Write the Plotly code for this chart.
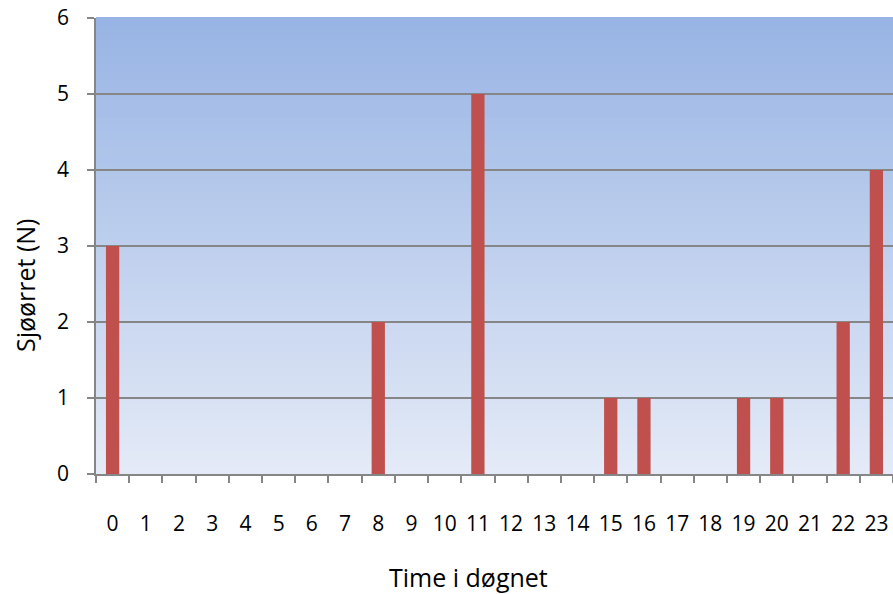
import plotly.graph_objects as go

hours = [str(h) for h in range(24)]
counts = [3, 0, 0, 0, 0, 0, 0, 0, 2, 0, 0, 5, 0, 0, 0, 1, 1, 0, 0, 1, 1, 0, 2, 4]
x_title = "Time i døgnet"
y_title = "Sjøørret (N)"

top_rgb = (152, 180, 228)
bot_rgb = (228, 234, 247)
n_bands = 60

shapes = []
for i in range(n_bands):
    t = i / (n_bands - 1)
    c = tuple(round(bot_rgb[k] + (top_rgb[k] - bot_rgb[k]) * t) for k in range(3))
    shapes.append(dict(type="rect", xref="paper", yref="paper",
                       x0=0, x1=1, y0=i / n_bands, y1=(i + 1) / n_bands + 0.002,
                       fillcolor="rgb(%d,%d,%d)" % c, line=dict(width=0), layer="below"))

fig = go.Figure(go.Bar(x=hours, y=counts, marker=dict(color="#C0504D", line=dict(width=0)),
                       width=0.4))

font = "Open Sans, Liberation Sans, sans-serif"
fig.update_layout(
    width=893, height=594,
    margin=dict(l=96, r=0, t=18, b=120),
    paper_bgcolor="white", plot_bgcolor="white",
    shapes=shapes, showlegend=False,
    font=dict(family=font, size=21, color="black"),
    annotations=[
        dict(text=x_title, xref="paper", yref="paper", x=0.468, y=-0.226,
             xanchor="center", yanchor="middle", showarrow=False, font=dict(size=25)),
        dict(text=y_title, xref="paper", yref="paper", x=-0.089, y=0.4145,
             xanchor="center", yanchor="middle", showarrow=False, textangle=-90,
             font=dict(size=25)),
    ],
)
fig.update_xaxes(type="category", tickson="boundaries", ticks="outside", ticklen=7,
                 tickcolor="#868686", tickwidth=1.5, showline=True, linecolor="#868686",
                 linewidth=1.5, showgrid=False, ticklabelstandoff=30, tickangle=0,
                 automargin=False, tickfont=dict(size=21))
fig.update_yaxes(range=[0, 6], dtick=1, ticks="outside", ticklen=7, tickcolor="#868686",
                 tickwidth=1.5, showline=True, linecolor="#868686", linewidth=1.5,
                 showgrid=True, gridcolor="#868686", gridwidth=1.5, zeroline=False,
                 automargin=False, ticklabelstandoff=14, tickfont=dict(size=21))

fig.write_html("out.html")
